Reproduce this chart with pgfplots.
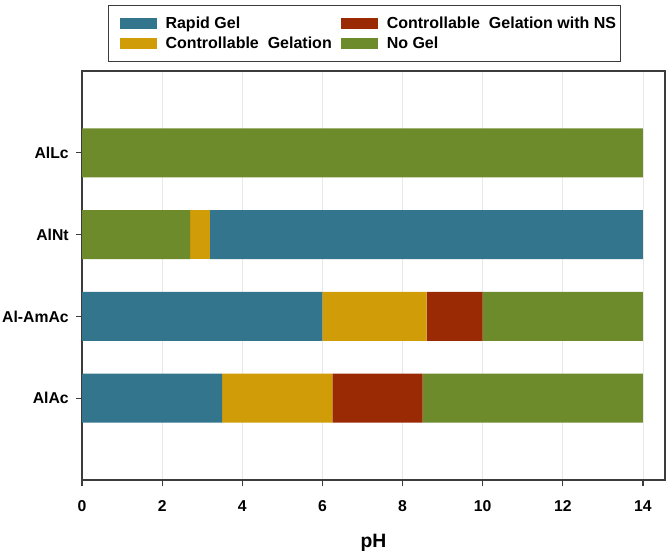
\documentclass[border=0pt]{standalone}
\usepackage{fontspec}
\setmainfont{Liberation Sans}
\usepackage{pgfplots}
\pgfplotsset{compat=1.18}
\definecolor{rapid}{RGB}{51,117,140}
\definecolor{ctrl}{RGB}{208,156,8}
\definecolor{ns}{RGB}{154,42,4}
\definecolor{nogel}{RGB}{110,139,44}
\definecolor{frame}{RGB}{60,60,60}
\begin{document}
\begin{tikzpicture}
\useasboundingbox (-61.5pt,-52.5pt) rectangle (438pt,360pt);
\begin{axis}[
  at={(0,0)}, anchor=south west,
  scale only axis,
  width=437.25pt, height=306.75pt,
  xbar stacked,
  bar width=0.6,
  xmin=0, xmax=14.55,
  ymin=-1, ymax=4,
  xtick={0,2,...,14},
  ytick={0,1,2,3},
  yticklabels={AlAc, Al-AmAc, AlNt, AlLc},
  xmajorgrids,
  major grid style={draw=gray!18, line width=0.6pt},
  axis line style={draw=frame, line width=0.9pt},
  tick style={draw=frame, line width=0.8pt},
  tick align=outside,
  major tick length=4.5pt,
  xtick pos=bottom, ytick pos=left,
  /pgf/number format/assume math mode=true,
  ticklabel style={font=\fontsize{11.8}{14}\selectfont\bfseries, text=black},
  yticklabel style={xshift=-2pt},
  xticklabel style={yshift=-7.5pt},
  xlabel={pH},
  xlabel style={font=\fontsize{14.5}{16}\selectfont\bfseries, yshift=-10pt},
  legend columns=2,
  legend cell align=left,
  legend image code/.code={\path (0pt,0pt); \fill[#1] (5.25pt,-4pt) rectangle (33pt,4pt);},
  legend style={
    at={(0.0446,1)}, anchor=south west, yshift=6.75pt,
    draw=frame, line width=0.8pt,
    font=\fontsize{12}{14}\selectfont\bfseries,
    nodes={inner xsep=0pt},
    inner xsep=3pt, inner ysep=6.5pt,
    row sep=0.5pt,
    /tikz/every odd column/.append style={column sep=6.75pt},
    /tikz/every even column/.append style={column sep=1.5pt},
  },
]
\addplot[fill=nogel, draw=none, forget plot] coordinates {(0,0) (0,1) (2.7,2) (14,3)};
\addplot[fill=ctrl, draw=none, forget plot] coordinates {(0,0) (0,1) (0.5,2) (0,3)};
\addplot[fill=rapid, draw=none, forget plot] coordinates {(3.5,0) (6,1) (10.8,2) (0,3)};
\addplot[fill=ctrl, draw=none, forget plot] coordinates {(2.75,0) (2.6,1) (0,2) (0,3)};
\addplot[fill=ns, draw=none, forget plot] coordinates {(2.25,0) (1.4,1) (0,2) (0,3)};
\addplot[fill=nogel, draw=none, forget plot] coordinates {(5.5,0) (4,1) (0,2) (0,3)};
\addlegendimage{fill=rapid, draw=none}
\addlegendentry{Rapid Gel}
\addlegendimage{fill=ns, draw=none}
\addlegendentry{Controllable~ Gelation with NS}
\addlegendimage{fill=ctrl, draw=none}
\addlegendentry{Controllable~ Gelation}
\addlegendimage{fill=nogel, draw=none}
\addlegendentry{No Gel}
\end{axis}
\end{tikzpicture}
\end{document}
